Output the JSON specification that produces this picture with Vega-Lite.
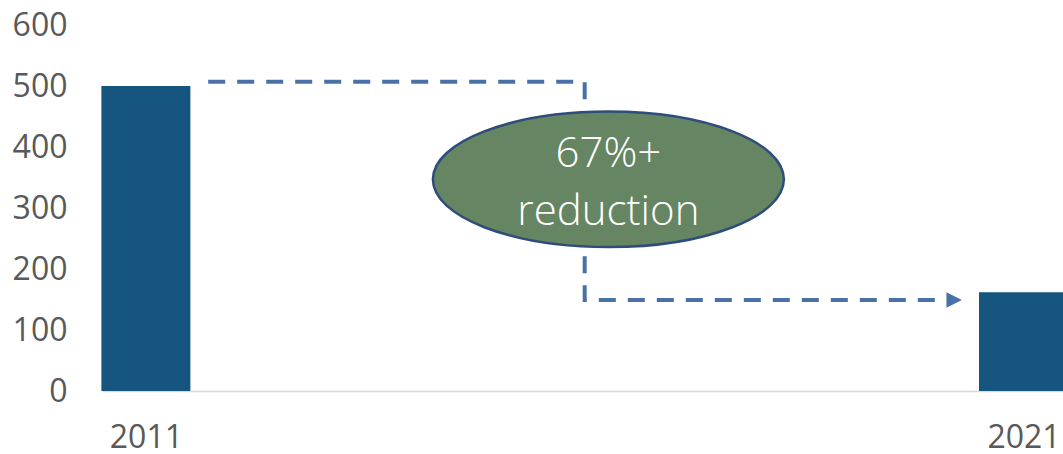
{
  "$schema": "https://vega.github.io/schema/vega-lite/v6.json",
  "autosize": {"type": "none"},
  "padding": {"left": 102, "top": 25, "right": 0, "bottom": 63},
  "width": 961,
  "height": 366,
  "background": "white",
  "config": {
    "view": {"stroke": null},
    "font": "Open Sans"
  },
  "datasets": {
    "bars": [
      {"year": 2011, "value": 500},
      {"year": 2021, "value": 162}
    ],
    "path": [
      {"step": 0, "px": 2011.71, "py": 507},
      {"step": 1, "px": 2016.0, "py": 507},
      {"step": 2, "px": 2016.0, "py": 149},
      {"step": 3, "px": 2020.12, "py": 149}
    ],
    "arrow": [{"px": 2020.21, "py": 149}],
    "badge": [{"px": 2016.27, "py": 347}],
    "labels": [
      {"px": 2016.27, "py": 367, "text": "67%+"},
      {"px": 2016.27, "py": 272, "text": "reduction"}
    ]
  },
  "layer": [
    {
      "data": {"name": "bars"},
      "mark": {"type": "bar", "size": 89, "color": "#15557F"},
      "encoding": {
        "x": {
          "field": "year",
          "type": "quantitative",
          "scale": {"domain": [2010.5, 2021.45], "nice": false, "zero": false, "padding": 0},
          "axis": {
            "title": null,
            "values": [2011, 2021],
            "format": "d",
            "grid": false,
            "ticks": false,
            "domain": true,
            "domainColor": "#D9D9D9",
            "domainWidth": 1.5,
            "labelFont": "Open Sans",
            "labelFontSize": 32,
            "labelColor": "#595959",
            "labelPadding": 31,
            "labelFlush": false,
            "labelOverlap": false
          }
        },
        "y": {
          "field": "value",
          "type": "quantitative",
          "scale": {"domain": [0, 600], "nice": false, "padding": 0},
          "axis": {
            "title": null,
            "values": [0, 100, 200, 300, 400, 500, 600],
            "grid": false,
            "ticks": false,
            "domain": false,
            "labelFont": "Open Sans",
            "labelFontSize": 32,
            "labelColor": "#595959",
            "labelPadding": 35
          }
        }
      }
    },
    {
      "data": {"name": "path"},
      "mark": {"type": "line", "color": "#4A70A8", "strokeWidth": 4, "strokeDash": [17, 12], "strokeCap": "butt", "interpolate": "linear"},
      "encoding": {
        "x": {"field": "px", "type": "quantitative"},
        "y": {"field": "py", "type": "quantitative"},
        "order": {"field": "step", "type": "quantitative"}
      }
    },
    {
      "data": {"name": "arrow"},
      "mark": {"type": "point", "shape": "M -1 -1 L 1 0 L -1 1 Z", "size": 240, "filled": true, "color": "#4A70A8", "opacity": 1},
      "encoding": {
        "x": {"field": "px", "type": "quantitative"},
        "y": {"field": "py", "type": "quantitative"}
      }
    },
    {
      "data": {"name": "badge"},
      "mark": {
        "type": "point",
        "shape": "M -1 0 C -1 -0.2132 -0.5523 -0.386 0 -0.386 C 0.5523 -0.386 1 -0.2132 1 0 C 1 0.2132 0.5523 0.386 0 0.386 C -0.5523 0.386 -1 0.2132 -1 0 Z",
        "size": 123201,
        "filled": true,
        "fill": "#668562",
        "stroke": "#2E4D7B",
        "strokeWidth": 2.5,
        "opacity": 1,
        "fillOpacity": 1
      },
      "encoding": {
        "x": {"field": "px", "type": "quantitative"},
        "y": {"field": "py", "type": "quantitative"}
      }
    },
    {
      "data": {"name": "labels"},
      "mark": {"type": "text", "font": "Open Sans", "fontWeight": 300, "fontSize": 42, "color": "white", "align": "center", "baseline": "alphabetic"},
      "encoding": {
        "x": {"field": "px", "type": "quantitative"},
        "y": {"field": "py", "type": "quantitative"},
        "text": {"field": "text"}
      }
    }
  ]
}
